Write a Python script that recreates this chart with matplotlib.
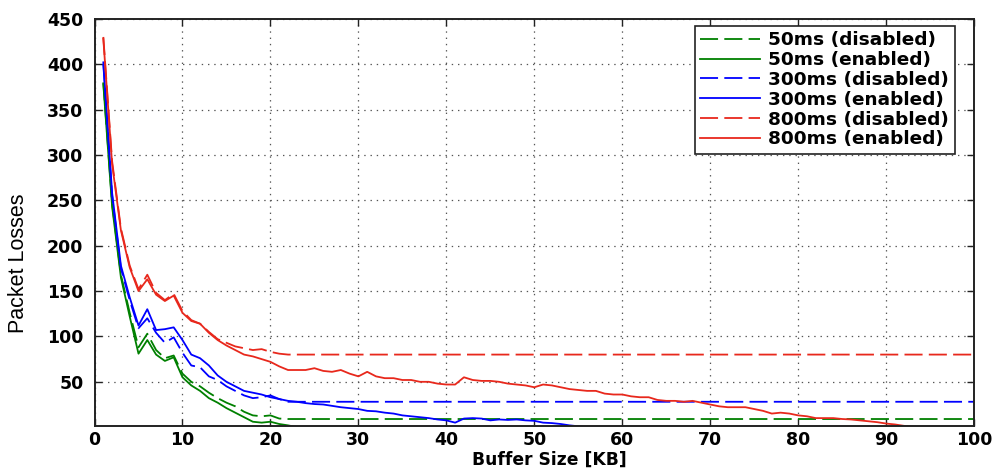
import matplotlib
matplotlib.use("Agg")
import matplotlib.pyplot as plt

# ---------------- data ----------------
buffer_kb = list(range(1, 101))

red_enabled = [428, 290, 217, 176, 150, 163, 146, 139, 145, 126,
               117, 114, 104, 96, 90, 85, 80, 78, 75, 72,
               67, 63, 63, 63, 65, 62, 61, 63, 59, 56,
               61, 56, 54, 54, 52, 52, 50, 50, 48, 47,
               47, 55, 52, 51, 51, 50, 48, 47, 46, 44,
               47, 46, 44, 42, 41, 40, 40, 37, 36, 36,
               34, 33, 33, 30, 29, 29, 28, 29, 27, 25,
               23, 22, 22, 22, 20, 18, 15, 16, 15, 13,
               12, 10, 10, 10, 9, 8.5, 7.5, 6.5, 5.5, 4,
               3, 1.5, 0.5, 0, 0, 0, 0, 0, 0, 0]

red_disabled = [430, 293, 219, 178, 152, 168, 148, 140, 147, 128,
                118, 114, 105, 97, 93, 89, 87, 85, 86, 83,
                81, 80, 80, 80, 80, 80, 80, 80, 80, 80,
                80, 80, 80, 80, 80, 80, 80, 80, 80, 80,
                80, 80, 80, 80, 80, 80, 80, 80, 80, 80,
                80, 80, 80, 80, 80, 80, 80, 80, 80, 80,
                80, 80, 80, 80, 80, 80, 80, 80, 80, 80,
                80, 80, 80, 80, 80, 80, 80, 80, 80, 80,
                80, 80, 80, 80, 80, 80, 80, 80, 80, 80,
                80, 80, 80, 80, 80, 80, 80, 80, 80, 80]

blue_enabled = [402, 258, 178, 143, 112, 130, 107, 108, 110, 96,
                80, 76, 68, 57, 50, 45, 40, 38, 36, 33,
                31, 29, 28, 26.5, 25.5, 25, 23.5, 22, 21, 20,
                18, 17.5, 16, 15, 13, 12, 11, 10, 8.5, 7.5,
                5, 9.5, 10, 9.5, 7.5, 8.5, 8, 8.5, 7.5, 7,
                5, 4.5, 3.5, 2, 1, 0, 0, 0, 0, 0,
                0, 0, 0, 0, 0, 0, 0, 0, 0, 0,
                0, 0, 0, 0, 0, 0, 0, 0, 0, 0,
                0, 0, 0, 0, 0, 0, 0, 0, 0, 0,
                0, 0, 0, 0, 0, 0, 0, 0, 0, 0]

blue_disabled = [400, 255, 175, 140, 109, 120, 104, 93, 99, 82,
                 68, 66, 56, 52, 45, 40, 35, 32, 33, 35,
                 31, 28, 28, 28, 28, 28, 28, 28, 28, 28,
                 28, 28, 28, 28, 28, 28, 28, 28, 28, 28,
                 28, 28, 28, 28, 28, 28, 28, 28, 28, 28,
                 28, 28, 28, 28, 28, 28, 28, 28, 28, 28,
                 28, 28, 28, 28, 28, 28, 28, 28, 28, 28,
                 28, 28, 28, 28, 28, 28, 28, 28, 28, 28,
                 28, 28, 28, 28, 28, 28, 28, 28, 28, 28,
                 28, 28, 28, 28, 28, 28, 28, 28, 28, 28]

green_enabled = [378, 243, 165, 122, 81, 96, 80, 73, 77, 55,
                 46, 40, 32, 27, 21, 16, 11, 6, 5, 6,
                 3.5, 2, 0, 0, 0, 0, 0, 0, 0, 0,
                 0, 0, 0, 0, 0, 0, 0, 0, 0, 0,
                 0, 0, 0, 0, 0, 0, 0, 0, 0, 0,
                 0, 0, 0, 0, 0, 0, 0, 0, 0, 0,
                 0, 0, 0, 0, 0, 0, 0, 0, 0, 0,
                 0, 0, 0, 0, 0, 0, 0, 0, 0, 0,
                 0, 0, 0, 0, 0, 0, 0, 0, 0, 0,
                 0, 0, 0, 0, 0, 0, 0, 0, 0, 0]

green_disabled = [380, 246, 168, 126, 88, 103, 85, 76, 79, 59,
                  50, 45, 38, 32, 27, 23, 17, 13, 12, 13,
                  9.5, 9, 9, 9, 9, 9, 9, 9, 9, 9,
                  9, 9, 9, 9, 9, 9, 9, 9, 9, 9,
                  9, 9, 9, 9, 9, 9, 9, 9, 9, 9,
                  9, 9, 9, 9, 9, 9, 9, 9, 9, 9,
                  9, 9, 9, 9, 9, 9, 9, 9, 9, 9,
                  9, 9, 9, 9, 9, 9, 9, 9, 9, 9,
                  9, 9, 9, 9, 9, 9, 9, 9, 9, 9,
                  9, 9, 9, 9, 9, 9, 9, 9, 9, 9]

labels = ["50ms (disabled)", "50ms (enabled)",
          "300ms (disabled)", "300ms (enabled)",
          "800ms (disabled)", "800ms (enabled)"]

x_ticks = [0, 10, 20, 30, 40, 50, 60, 70, 80, 90, 100]
y_ticks = [50, 100, 150, 200, 250, 300, 350, 400, 450]

# ---------------- plot ----------------
plt.rcParams['lines.scale_dashes'] = False

fig = plt.figure(figsize=(9.95, 4.70), dpi=100)
ax = fig.add_axes([0.095, 0.094, 0.884, 0.866])

GREEN = '#008000'
BLUE = '#0000ff'
RED = '#e8281c'
lw = 1.3
dash = (0, (13, 4.5))

series = [
    (green_disabled, GREEN, dash),
    (green_enabled, GREEN, '-'),
    (blue_disabled, BLUE, dash),
    (blue_enabled, BLUE, '-'),
    (red_disabled, RED, dash),
    (red_enabled, RED, '-'),
]
for (vals, col, ls), lab in zip(series, labels):
    ax.plot(buffer_kb, vals, color=col, linestyle=ls, linewidth=lw, label=lab)

ax.set_xlim(0, 100)
ax.set_ylim(1.5, 450)
ax.set_xticks(x_ticks)
ax.set_yticks(y_ticks)

tickfont = dict(family='DejaVu Sans', weight='bold', size=12.5)
ax.set_xticklabels([str(t) for t in x_ticks], fontdict=tickfont)
ax.set_yticklabels([str(t) for t in y_ticks], fontdict=tickfont)
ax.tick_params(direction='in', length=5, width=1, top=True, right=True,
               colors='#222222', labelcolor='black')
ax.tick_params(axis='x', pad=3.5)
ax.tick_params(axis='y', pad=8)

ax.grid(True, linestyle=(0, (1, 3.5)), color='#555555', linewidth=0.9)
for sp in ax.spines.values():
    sp.set_linewidth(1.4)
    sp.set_color('#222222')

ax.set_xlabel("Buffer Size [KB]", family='DejaVu Sans', weight='bold', size=12.3)
ax.xaxis.set_label_coords(0.517, -0.061)
ax.set_ylabel("Packet Losses", family=['Liberation Sans Narrow', 'Liberation Sans', 'DejaVu Sans'],
              size=15.5)
ax.yaxis.set_label_coords(-0.075, 0.40)

leg = ax.legend(loc='upper right', bbox_to_anchor=(0.978, 0.983),
                prop=dict(family='DejaVu Sans', weight='bold', size=13.3),
                handlelength=3.25, handletextpad=0.43, labelspacing=0.1,
                borderpad=0.3, borderaxespad=0.0, fancybox=False, framealpha=1)
leg.get_frame().set_edgecolor('#222222')
leg.get_frame().set_linewidth(1.2)

fig.savefig("out.png", dpi=100)
